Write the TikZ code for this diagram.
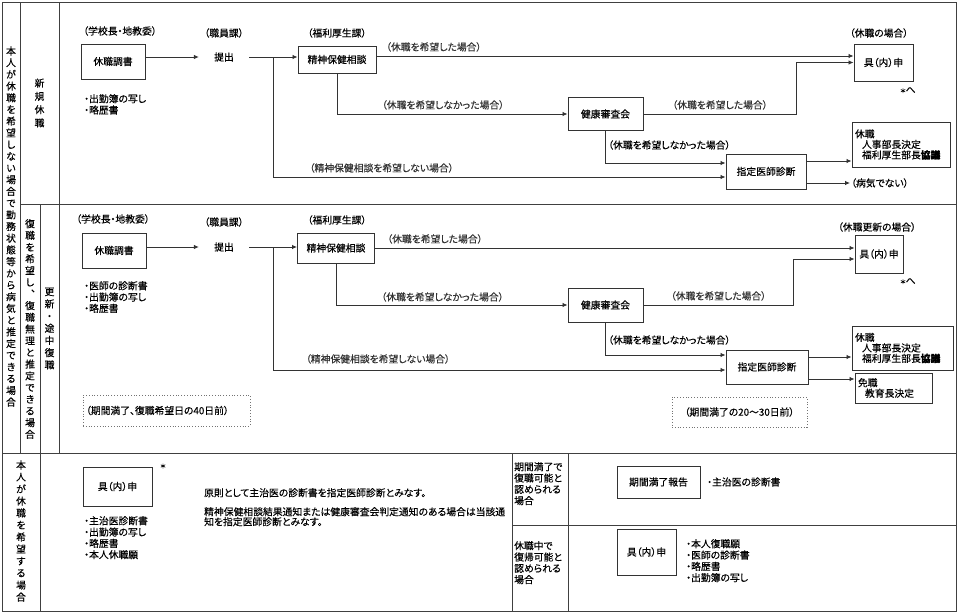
\documentclass[tikz,border=0pt]{standalone}
\usepackage{fontspec}
\setmainfont{Noto Sans CJK JP}[RawFeature=+palt, UprightFeatures={FakeBold=0.35}, BoldFeatures={FakeBold=1.5}]
\usetikzlibrary{positioning, arrows.meta, calc}

\begin{document}
\begin{tikzpicture}[
  x=1pt, y=-1pt,
  font=\fontsize{9.8}{11.7}\selectfont,
  frame/.style={draw=black!75, line width=1pt},
  box/.style={draw=black!80, line width=1pt, align=center, inner sep=2pt},
  resbox/.style={box, align=left, inner xsep=3pt, font=\fontsize{9.8}{10.5}\selectfont},
  note/.style={draw=black!55, dotted, line width=0.8pt, inner sep=3pt},
  lbl/.style={inner sep=1pt},
  tate/.style={align=center, inner sep=0pt},
  list/.style={align=left, anchor=north west, inner sep=0pt, font=\fontsize{9.8}{11.3}\selectfont},
  flow/.style={-{Latex[length=5pt, width=4.5pt]}, line width=0.8pt, black!80},
]
  \useasboundingbox (0,0) rectangle (959,613);

  % --- table grid ---
  \draw[frame] (2,2) rectangle (956,611);
  \draw[frame] (20,2) -- (20,453);
  \draw[frame] (59,2) -- (59,453);
  \draw[frame] (20,204) -- (956,204);
  \draw[frame] (2,453) -- (956,453);
  \draw[frame] (40,204) -- (40,611);
  \draw[frame] (512,453) -- (512,611);
  \draw[frame] (568,453) -- (568,611);
  \draw[frame] (512,525) -- (956,525);

  % --- vertical headings ---
  \node[tate] (side1) at (11,226.5)
    {本\\人\\が\\休\\職\\を\\希\\望\\し\\な\\い\\場\\合\\で\\勤\\務\\状\\態\\等\\か\\ら\\病\\気\\と\\推\\定\\で\\き\\る\\場\\合};
  \node[tate, font=\fontsize{9.8}{13.3}\selectfont] (kind1) at (39.5,103) {新\\規\\休\\職};
  \node[tate] (side2) at (30,329)
    {復\\職\\を\\希\\望\\し\\︑\\復\\職\\無\\理\\と\\推\\定\\で\\き\\る\\場\\合};
  \node[tate, font=\fontsize{9.8}{12.2}\selectfont] (kind2) at (49.5,328.5) {更\\新\\・\\途\\中\\復\\職};
  \node[tate, font=\fontsize{9.8}{12}\selectfont] (side3) at (21,531)
    {本\\人\\が\\休\\職\\を\\希\\望\\す\\る\\場\\合};

  % --- new leave ---
  \node[lbl] (org1a) at (120,31) {（学校長・地教委）};
  \node[box, minimum width=64, minimum height=35] (form1) at (113,61.5) {休職調書};
  \node[list] (docs1) at (84,94) {・出勤簿の写し\\・略歴書};
  \node[lbl] (org1b) at (224,33) {（職員課）};
  \node[minimum width=50] (sub1) at (224,57) {提出};
  \node[lbl] (org1c) at (337,33) {（福利厚生課）};
  \node[box, minimum width=78, minimum height=27] (mh1) at (337,59.5) {精神保健相談};
  \node[box, minimum width=75, minimum height=33] (hc1) at (605.5,114) {健康審査会};
  \node[lbl] (org1d) at (879,33) {（休職の場合）};
  \node[box, minimum width=59, minimum height=37] (ap1) at (883.5,62.5) {具（内）申};
  \node[lbl] (star1) at (908,90) {{\fontsize{6.5}{6.5}\selectfont ＊}へ};
  \node[box, minimum width=80, minimum height=35] (doc1) at (766,171.5) {指定医師診断};
  \node[resbox, text width=92, minimum height=45] (res1) at (901,144.5)
    {休職\\\hspace*{7pt}人事部長決定\\\hspace*{7pt}福利厚生部長\textbf{協議}};
  \node[lbl, anchor=west] (nd1) at (850,183) {（病気でない）};

  \coordinate (br1) at (273,57);
  \draw[flow] (form1.east |- sub1) -- (sub1.west);
  \draw[flow] (sub1.east) -- (sub1.east -| mh1.west);
  \draw[flow] (br1) |- node[lbl, above=3pt, pos=0.62] {（精神保健相談を希望しない場合）}
    ([yshift=-5.5pt]doc1.west);
  \draw[flow] ([yshift=3.5pt]mh1.east) -- node[lbl, above=3pt, pos=0.12] {（休職を希望した場合）}
    ([yshift=3.5pt]mh1.east -| ap1.west);
  \draw[flow] (mh1.south) |- node[lbl, above=3pt, pos=0.73] {（休職を希望しなかった場合）} (hc1.west);
  \draw[flow] (hc1.east) -- node[lbl, above=3pt] {（休職を希望した場合）} ++(153,0) |- (ap1.west);
  \draw[flow] (hc1.south) |- ([yshift=8.5pt]doc1.west);
  \node[lbl, anchor=west] (no1) at (607,145) {（休職を希望しなかった場合）};
  \draw[flow] ([yshift=10.5pt]doc1.east) -- ([yshift=10.5pt]doc1.east -| res1.west);
  \draw[flow] ([yshift=-11.5pt]doc1.east) -- ([yshift=-11.5pt]doc1.east -| nd1.west);

  % --- renewal / return ---
  \node[lbl] (org2a) at (113,219) {（学校長・地教委）};
  \node[box, minimum width=64, minimum height=35] (form2) at (114,250.5) {休職調書};
  \node[list] (docs2) at (84,281) {・医師の診断書\\・出勤簿の写し\\・略歴書};
  \node[lbl] (org2b) at (224,222) {（職員課）};
  \node[minimum width=50] (sub2) at (224,247) {提出};
  \node[lbl] (org2c) at (337,220) {（福利厚生課）};
  \node[box, minimum width=77, minimum height=30] (mh2) at (336,248) {精神保健相談};
  \node[box, minimum width=75, minimum height=34] (hc2) at (605.5,305) {健康審査会};
  \node[lbl] (org2d) at (877,227) {（休職更新の場合）};
  \node[box, minimum width=48, minimum height=38] (ap2) at (879,254) {具（内）申};
  \node[lbl] (star2) at (908,281) {{\fontsize{6.5}{6.5}\selectfont ＊}へ};
  \node[box, minimum width=82, minimum height=34] (doc2) at (767,367) {指定医師診断};
  \node[resbox, text width=95, minimum height=44] (res2) at (902.5,348)
    {休職\\\hspace*{7pt}人事部長決定\\\hspace*{7pt}福利厚生部長\textbf{協議}};
  \node[resbox, text width=71, minimum height=30] (dis2) at (893.5,388)
    {免職\\\hspace*{7pt}教育長決定};
  \node[note, align=left, text width=161, minimum height=31] (term2a) at (166.5,410.5)
    {（期間満了、復職希望日の40日前）};
  \node[note, minimum width=135, minimum height=30] (term2b) at (739.5,412) {（期間満了の20～30日前）};

  \coordinate (br2) at (273,247);
  \draw[flow] (form2.east |- sub2) -- (sub2.west);
  \draw[flow] (sub2.east) -- (sub2.east -| mh2.west);
  \draw[flow] (br2) |- node[lbl, above=5pt, pos=0.616] {（精神保健相談を希望しない場合）}
    ([yshift=-3pt]doc2.west);
  \draw[flow] (mh2.east) -- node[lbl, above=3pt, pos=0.125] {（休職を希望した場合）} (mh2.east -| ap2.west);
  \draw[flow] (mh2.south) |- node[lbl, above=2pt, pos=0.73] {（休職を希望しなかった場合）} (hc2.west);
  \draw[flow] (hc2.east) -- node[lbl, above=3pt] {（休職を希望した場合）} ++(150,0) |- ([yshift=-5pt]ap2.west);
  \draw[flow] (hc2.south) |- ([yshift=12pt]doc2.west);
  \node[lbl, anchor=west] (no2) at (607,340) {（休職を希望しなかった場合）};
  \draw[flow] ([yshift=10pt]doc2.east) -- ([yshift=10pt]doc2.east -| res2.west);
  \draw[flow] ([yshift=-12pt]doc2.east) -- ([yshift=-12pt]doc2.east -| dis2.west);

  % --- leave requested by the person ---
  \node[box, minimum width=69, minimum height=39] (ap3) at (117.5,486.5) {具（内）申};
  \node[lbl, font=\fontsize{6.5}{6.5}\selectfont] (star3) at (163,466) {＊};
  \node[list] (docs3) at (84,516) {・主治医診断書\\・出勤簿の写し\\・略歴書\\・本人休職願};
  \node[list] (rule3a) at (204,488) {原則として主治医の診断書を指定医師診断とみなす。};
  \node[list, font=\fontsize{9.8}{10}\selectfont] (rule3b) at (204,507)
    {精神保健相談結果通知または健康審査会判定通知のある場合は当該通\\知を指定医師診断とみなす。};

  \node[list] (case4) at (514,462) {期間満了で\\復職可能と\\認められる\\場合};
  \node[box, minimum width=83, minimum height=32] (rep4) at (658.5,482) {期間満了報告};
  \node[lbl, anchor=west] (docs4) at (706,482) {・主治医の診断書};

  \node[list] (case5) at (514,541) {休職中で\\復帰可能と\\認められる\\場合};
  \node[box, minimum width=59, minimum height=46] (ap5) at (646.5,552) {具（内）申};
  \node[list] (docs5) at (686,539) {・本人復職願\\・医師の診断書\\・略歴書\\・出勤簿の写し};
\end{tikzpicture}
\end{document}
